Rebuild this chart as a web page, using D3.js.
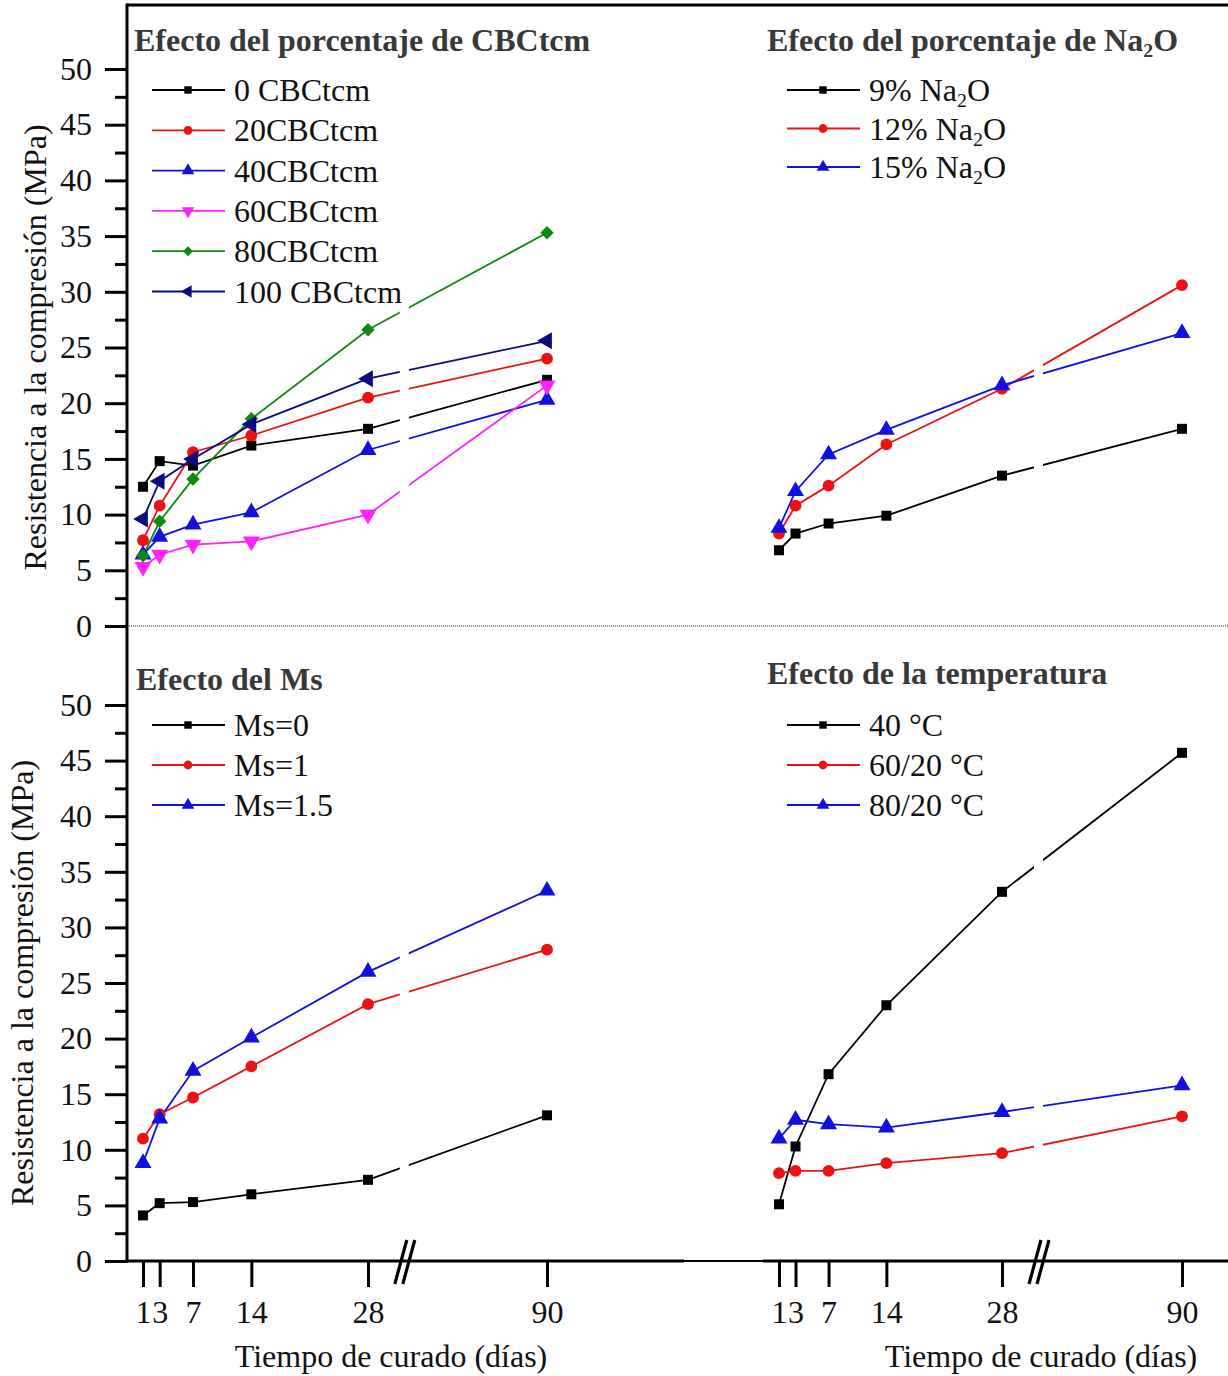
<!DOCTYPE html>
<html>
<head>
<meta charset="utf-8">
<script src="https://cdn.jsdelivr.net/npm/d3@7/dist/d3.min.js"></script>
<style>
  body { margin: 0; background: #fff; }
  text { font-family: "Liberation Serif", "Times New Roman", serif; }
</style>
</head>
<body>
<svg id="chart" width="1228" height="1376"></svg>
<script>
// curing days and tick labels
var days = [1, 3, 7, 14, 28, 90];
var dayLabels = ["1", "3", "7", "14", "28", "90"];
var yMajor = [0, 5, 10, 15, 20, 25, 30, 35, 40, 45, 50];
var yMinor = [2.5, 7.5, 12.5, 17.5, 22.5, 27.5, 32.5, 37.5, 42.5, 47.5];

// Efecto del porcentaje de CBCtcm
var cbc0   = [12.5, 14.8, 14.4, 16.2, 17.7, 22.1];
var cbc20  = [7.7, 10.8, 15.6, 17.1, 20.5, 24.0];
var cbc40  = [6.4, 8.0, 9.1, 10.2, 15.8, 20.3];
var cbc60  = [5.3, 6.4, 7.3, 7.6, 10.0, 21.6];
var cbc80  = [6.3, 9.4, 13.2, 18.6, 26.6, 35.3];
var cbc100 = [9.6, 13.0, 15.0, 18.1, 22.2, 25.6];

// Efecto del porcentaje de Na2O
var na9  = [6.8, 8.3, 9.2, 9.9, 13.5, 17.7];
var na12 = [8.3, 10.8, 12.6, 16.3, 21.3, 30.6];
var na15 = [8.8, 12.1, 15.4, 17.6, 21.6, 26.3];

// Efecto del Ms
var ms0  = [4.1, 5.2, 5.3, 6.0, 7.3, 13.1];
var ms1  = [11.0, 13.2, 14.7, 17.5, 23.1, 28.0];
var ms15 = [8.8, 12.8, 17.1, 20.1, 26.0, 33.3];

// Efecto de la temperatura
var t40 = [5.1, 10.3, 16.8, 23.0, 33.2, 45.7];
var t60 = [7.9, 8.1, 8.1, 8.8, 9.7, 13.0];
var t80 = [11.0, 12.7, 12.3, 12.0, 13.4, 15.8];

window.onload = function() {
  var svg = d3.select("#chart");
  var axisX = 127, axisTop = 5, axisY = 1261, rightEdge = 1228;
  var fs = 32;

  // columns (broken x axis) and rows
  var cols = [
    {x: d3.scaleLinear().domain([1, 28, 90]).range([143, 368, 547]), legX: 152, titleX: 391},
    {x: d3.scaleLinear().domain([1, 28, 90]).range([779, 1002, 1182]), legX: 787, titleX: 1041}
  ];
  var rows = [
    d3.scaleLinear().domain([0, 50]).range([626, 69]),
    d3.scaleLinear().domain([0, 50]).range([1261, 705])
  ];

  var sym = {
    square: {type: d3.symbolSquare, rot: 0, size: 100},
    circle: {type: d3.symbolCircle, rot: 0, size: 110},
    up: {type: d3.symbolTriangle, rot: 0, size: 125},
    down: {type: d3.symbolTriangle, rot: 180, size: 125},
    diamond: {type: d3.symbolSquare, rot: 45, size: 90},
    left: {type: d3.symbolTriangle, rot: -90, size: 125}
  };

  var panels = [
    {col: 0, row: 0, title: ["Efecto del porcentaje de CBCtcm"], tx: 134, ty: 51, ly: 90, ls: 40.3,
     series: [
       {name: ["0 CBCtcm"], values: cbc0, color: "#000000", mk: "square"},
       {name: ["20CBCtcm"], values: cbc20, color: "#ee1111", mk: "circle"},
       {name: ["40CBCtcm"], values: cbc40, color: "#1010e0", mk: "up"},
       {name: ["60CBCtcm"], values: cbc60, color: "#ff22ff", mk: "down"},
       {name: ["80CBCtcm"], values: cbc80, color: "#108a10", mk: "diamond"},
       {name: ["100 CBCtcm"], values: cbc100, color: "#0a0a80", mk: "left"}
     ]},
    {col: 1, row: 0, title: ["Efecto del porcentaje de Na", "2", "O"], tx: 767, ty: 51, ly: 90, ls: 38.5,
     series: [
       {name: ["9% Na", "2", "O"], values: na9, color: "#000000", mk: "square"},
       {name: ["12% Na", "2", "O"], values: na12, color: "#ee1111", mk: "circle"},
       {name: ["15% Na", "2", "O"], values: na15, color: "#1010e0", mk: "up"}
     ]},
    {col: 0, row: 1, title: ["Efecto del Ms"], tx: 136, ty: 690, ly: 725, ls: 40,
     series: [
       {name: ["Ms=0"], values: ms0, color: "#000000", mk: "square"},
       {name: ["Ms=1"], values: ms1, color: "#ee1111", mk: "circle"},
       {name: ["Ms=1.5"], values: ms15, color: "#1010e0", mk: "up"}
     ]},
    {col: 1, row: 1, title: ["Efecto de la temperatura"], tx: 767, ty: 684, ly: 725, ls: 40,
     series: [
       {name: ["40 \u00B0C"], values: t40, color: "#000000", mk: "square"},
       {name: ["60/20 \u00B0C"], values: t60, color: "#ee1111", mk: "circle"},
       {name: ["80/20 \u00B0C"], values: t80, color: "#1010e0", mk: "up"}
     ]}
  ];

  // text with optional subscript (parts: text, sub, text)
  function richText(sel, parts, size) {
    parts.forEach(function(p, i) {
      var t = sel.append("tspan").text(p);
      if (i % 2 == 1) t.attr("font-size", size * 0.62).attr("dy", size * 0.2);
      else if (i > 0) t.attr("dy", -size * 0.2);
    });
  }

  function marker(g, mk, cx, cy, scale, color) {
    g.append("path")
      .attr("d", d3.symbol().type(sym[mk].type).size(sym[mk].size * scale)())
      .attr("transform", "translate(" + cx + "," + cy + ") rotate(" + sym[mk].rot + ")")
      .attr("fill", color);
  }

  // mask for the gap in lines at the axis break
  var defs = svg.append("defs");
  var mask = defs.append("mask").attr("id", "gap");
  mask.append("rect").attr("width", 1228).attr("height", 1376).attr("fill", "#fff");
  cols.forEach(function(c) {
    var bx = c.x(28) + 0.2 * (c.x(90) - c.x(28));
    c.breakX = bx;
    mask.append("rect").attr("x", bx - 4).attr("y", 0).attr("width", 9).attr("height", 1376).attr("fill", "#000");
  });

  // dotted separator
  svg.append("line")
    .attr("x1", axisX).attr("x2", rightEdge)
    .attr("y1", rows[0](0)).attr("y2", rows[0](0))
    .attr("stroke", "#222").attr("stroke-width", 1)
    .attr("stroke-dasharray", "1,1");

  // y axes
  rows.forEach(function(y) {
    var gMaj = svg.append("g")
      .attr("transform", "translate(" + axisX + ",0)")
      .call(d3.axisLeft(y).tickValues(yMajor).tickSize(22).tickSizeOuter(0).tickPadding(13));
    var gMin = svg.append("g")
      .attr("transform", "translate(" + axisX + ",0)")
      .call(d3.axisLeft(y).tickValues(yMinor).tickSize(12).tickSizeOuter(0).tickFormat(""));
    [gMaj, gMin].forEach(function(g) {
      g.select(".domain").remove();
      g.selectAll(".tick line").attr("stroke", "#000").attr("stroke-width", 3);
      g.selectAll(".tick text").attr("font-size", fs).attr("fill", "#111")
        .attr("font-family", "Liberation Serif");
    });
  });

  // x axes
  cols.forEach(function(c) {
    var g = svg.append("g")
      .attr("transform", "translate(0," + axisY + ")")
      .call(d3.axisBottom(c.x).tickValues(days).tickSize(26).tickSizeOuter(0).tickPadding(13)
        .tickFormat(function(d, i) { return dayLabels[i]; }));
    g.select(".domain").remove();
    g.selectAll(".tick line").attr("stroke", "#000").attr("stroke-width", 3);
    g.selectAll(".tick text").attr("font-size", fs).attr("fill", "#111")
      .attr("font-family", "Liberation Serif");

    // break marks
    [-9, -1].forEach(function(o) {
      svg.append("line")
        .attr("x1", c.breakX + o).attr("y1", axisY + 23)
        .attr("x2", c.breakX + o + 12).attr("y2", axisY - 21)
        .attr("stroke", "#000").attr("stroke-width", 3.2);
    });

    svg.append("text")
      .attr("x", c.titleX).attr("y", 1367)
      .attr("text-anchor", "middle").attr("font-size", fs).attr("fill", "#111")
      .text("Tiempo de curado (d\u00EDas)");
  });

  // frame lines
  svg.append("line").attr("x1", axisX).attr("x2", rightEdge).attr("y1", axisTop).attr("y2", axisTop)
    .attr("stroke", "#000").attr("stroke-width", 3);
  svg.append("line").attr("x1", axisX).attr("x2", 684).attr("y1", axisY).attr("y2", axisY)
    .attr("stroke", "#000").attr("stroke-width", 3);
  svg.append("line").attr("x1", 684).attr("x2", 763).attr("y1", axisY).attr("y2", axisY)
    .attr("stroke", "#000").attr("stroke-width", 2);
  svg.append("line").attr("x1", 763).attr("x2", rightEdge).attr("y1", axisY).attr("y2", axisY)
    .attr("stroke", "#000").attr("stroke-width", 3);
  svg.append("line").attr("x1", axisX).attr("x2", axisX).attr("y1", axisTop - 1.5).attr("y2", axisY + 1.5)
    .attr("stroke", "#000").attr("stroke-width", 3);

  // y titles
  [{y: rows[0], x: 46}, {y: rows[1], x: 33}].forEach(function(r) {
    var cy = (r.y(5) + r.y(45)) / 2;
    svg.append("text")
      .attr("transform", "translate(" + r.x + "," + cy + ") rotate(-90)")
      .attr("text-anchor", "middle").attr("font-size", fs).attr("fill", "#111")
      .text("Resistencia a la compresi\u00F3n (MPa)");
  });

  // panels
  panels.forEach(function(p) {
    var x = cols[p.col].x, y = rows[p.row];
    var line = d3.line()
      .x(function(d, i) { return x(days[i]); })
      .y(function(d) { return y(d); });

    var lines = svg.append("g").attr("mask", "url(#gap)");
    var marks = svg.append("g");
    p.series.forEach(function(s) {
      lines.append("path")
        .datum(s.values)
        .attr("d", line)
        .attr("fill", "none")
        .attr("stroke", s.color)
        .attr("stroke-width", 1.8);
      s.values.forEach(function(v, i) {
        marker(marks, s.mk, x(days[i]), y(v), 1, s.color);
      });
    });

    // title
    var t = svg.append("text")
      .attr("x", p.tx).attr("y", p.ty)
      .attr("font-size", fs).attr("font-weight", "bold").attr("fill", "#383838");
    richText(t, p.title, fs);

    // legend
    var lx = cols[p.col].legX;
    p.series.forEach(function(s, i) {
      var ly = p.ly + i * p.ls;
      svg.append("line")
        .attr("x1", lx).attr("x2", lx + 73).attr("y1", ly).attr("y2", ly)
        .attr("stroke", s.color).attr("stroke-width", 1.8);
      marker(svg, s.mk, lx + 36, ly, 0.55, s.color);
      var lt = svg.append("text")
        .attr("x", lx + 82).attr("y", ly + 11)
        .attr("font-size", fs).attr("fill", "#111");
      richText(lt, s.name, fs);
    });
  });
};
</script>
</body>
</html>
